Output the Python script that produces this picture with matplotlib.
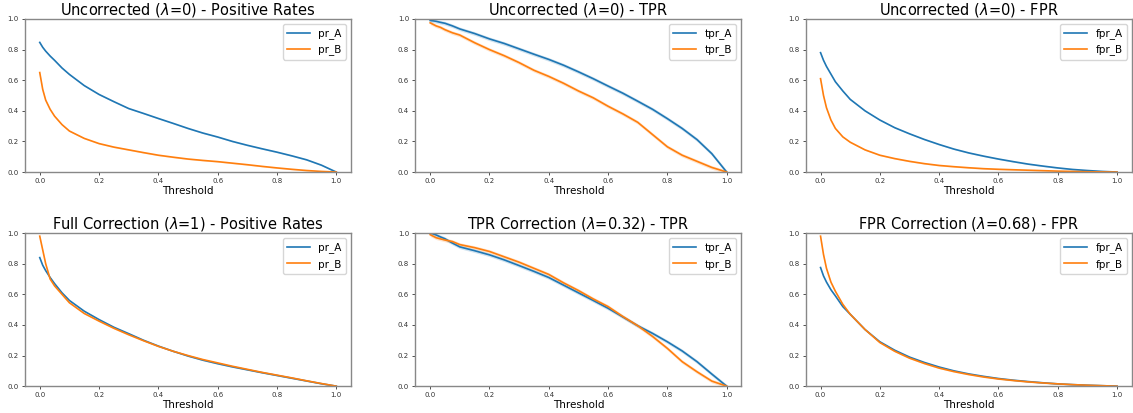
import numpy as np
import matplotlib
matplotlib.use('Agg')
import matplotlib.pyplot as plt

# thresholds shared by every panel
thr = [0, 0.01, 0.02, 0.035, 0.05, 0.075, 0.1, 0.15, 0.2, 0.25, 0.3, 0.35, 0.4,
       0.45, 0.5, 0.55, 0.6, 0.65, 0.7, 0.75, 0.8, 0.85, 0.9, 0.95, 1.0]

# uncorrected (lambda=0)
pr_A_0 = [0.847, 0.815, 0.79, 0.758, 0.73, 0.68, 0.638, 0.565, 0.507, 0.46, 0.415, 0.383, 0.35,
          0.318, 0.285, 0.255, 0.229, 0.2, 0.175, 0.152, 0.13, 0.106, 0.08, 0.045, 0.0]
pr_B_0 = [0.65, 0.54, 0.47, 0.41, 0.365, 0.31, 0.268, 0.22, 0.186, 0.163, 0.145, 0.127, 0.11,
          0.097, 0.085, 0.076, 0.068, 0.058, 0.048, 0.037, 0.027, 0.018, 0.01, 0.004, 0.0]
tpr_A_0 = [0.99, 0.988, 0.985, 0.978, 0.972, 0.955, 0.935, 0.905, 0.87, 0.84, 0.805, 0.77, 0.736,
           0.698, 0.655, 0.61, 0.562, 0.515, 0.463, 0.41, 0.349, 0.285, 0.212, 0.12, 0.0]
tpr_B_0 = [0.975, 0.965, 0.955, 0.945, 0.93, 0.91, 0.895, 0.845, 0.80, 0.76, 0.715, 0.665, 0.625,
           0.58, 0.53, 0.485, 0.43, 0.38, 0.325, 0.245, 0.165, 0.11, 0.07, 0.03, 0.0]
fpr_A_0 = [0.78, 0.73, 0.69, 0.64, 0.59, 0.53, 0.475, 0.40, 0.34, 0.29, 0.25, 0.213, 0.18,
           0.15, 0.125, 0.104, 0.085, 0.068, 0.052, 0.039, 0.027, 0.017, 0.01, 0.004, 0.0]
fpr_B_0 = [0.61, 0.5, 0.42, 0.34, 0.285, 0.23, 0.195, 0.145, 0.11, 0.088, 0.07, 0.055, 0.043,
           0.035, 0.028, 0.022, 0.018, 0.015, 0.012, 0.009, 0.006, 0.004, 0.002, 0.001, 0.0]

# corrected
pr_A_1 = [0.84, 0.79, 0.755, 0.71, 0.67, 0.61, 0.56, 0.49, 0.435, 0.385, 0.343, 0.3, 0.262,
          0.228, 0.197, 0.17, 0.147, 0.126, 0.107, 0.088, 0.07, 0.052, 0.034, 0.016, 0.0]
pr_B_1 = [0.98, 0.89, 0.8, 0.7, 0.655, 0.6, 0.545, 0.475, 0.425, 0.378, 0.336, 0.297, 0.26,
          0.228, 0.2, 0.174, 0.152, 0.13, 0.11, 0.09, 0.072, 0.054, 0.035, 0.017, 0.0]
tpr_A_c = [1.0, 0.995, 0.988, 0.975, 0.963, 0.935, 0.91, 0.885, 0.858, 0.825, 0.788, 0.75, 0.71,
           0.66, 0.61, 0.56, 0.509, 0.452, 0.395, 0.345, 0.29, 0.23, 0.16, 0.079, 0.0]
tpr_B_c = [0.99, 0.98, 0.97, 0.962, 0.955, 0.945, 0.925, 0.905, 0.88, 0.845, 0.81, 0.77, 0.73,
           0.675, 0.625, 0.57, 0.52, 0.455, 0.395, 0.325, 0.247, 0.16, 0.094, 0.033, 0.0]
fpr_A_c = [0.775, 0.72, 0.68, 0.63, 0.59, 0.52, 0.47, 0.37, 0.29, 0.235, 0.19, 0.155, 0.125,
           0.1, 0.08, 0.064, 0.05, 0.039, 0.03, 0.022, 0.015, 0.01, 0.006, 0.003, 0.0]
fpr_B_c = [0.98, 0.86, 0.77, 0.68, 0.62, 0.535, 0.47, 0.37, 0.285, 0.228, 0.183, 0.148, 0.118,
           0.095, 0.076, 0.06, 0.047, 0.037, 0.028, 0.021, 0.015, 0.01, 0.006, 0.003, 0.0]

titles = [r'Uncorrected ($\lambda$=0) - Positive Rates',
          r'Uncorrected ($\lambda$=0) - TPR',
          r'Uncorrected ($\lambda$=0) - FPR',
          r'Full Correction ($\lambda$=1) - Positive Rates',
          r'TPR Correction ($\lambda$=0.32) - TPR',
          r'FPR Correction ($\lambda$=0.68) - FPR']
names = ['pr', 'tpr', 'fpr', 'pr', 'tpr', 'fpr']
series = [(pr_A_0, pr_B_0), (tpr_A_0, tpr_B_0), (fpr_A_0, fpr_B_0),
          (pr_A_1, pr_B_1), (tpr_A_c, tpr_B_c), (fpr_A_c, fpr_B_c)]

fig, axes = plt.subplots(2, 3, figsize=(11.33, 4.13), dpi=100)
plt.subplots_adjust(left=0.022, right=0.999, bottom=0.065, top=0.954,
                    wspace=0.197, hspace=0.399)

x = np.array(thr)
for ax, title, name, (a, b) in zip(axes.flat, titles, names, series):
    a = np.array(a)
    b = np.array(b)
    band = 0.012 if name == 'tpr' else 0.004
    ax.fill_between(x, a - band, a + band, color='C0', alpha=0.2, lw=0)
    ax.fill_between(x, b - band, b + band, color='C1', alpha=0.2, lw=0)
    ax.plot(x, a, color='C0', lw=1.2, label=name + '_A')
    ax.plot(x, b, color='C1', lw=1.2, label=name + '_B')
    ax.set_ylim(0, 1.0)
    ax.set_xticks(np.arange(0, 1.01, 0.2))
    ax.set_yticks(np.arange(0, 1.01, 0.2))
    ax.tick_params(labelsize=5, length=2.5, width=0.6, colors='#333333', pad=2)
    for s in ax.spines.values():
        s.set_color('#888888')
        s.set_linewidth(1.0)
    ax.set_title(title, fontsize=10.5, pad=3)
    ax.set_xlabel('Threshold', fontsize=7.5, labelpad=1)
    ax.legend(loc='upper right', fontsize=7.5, handlelength=2.2)

plt.savefig('out.png', dpi=100)
